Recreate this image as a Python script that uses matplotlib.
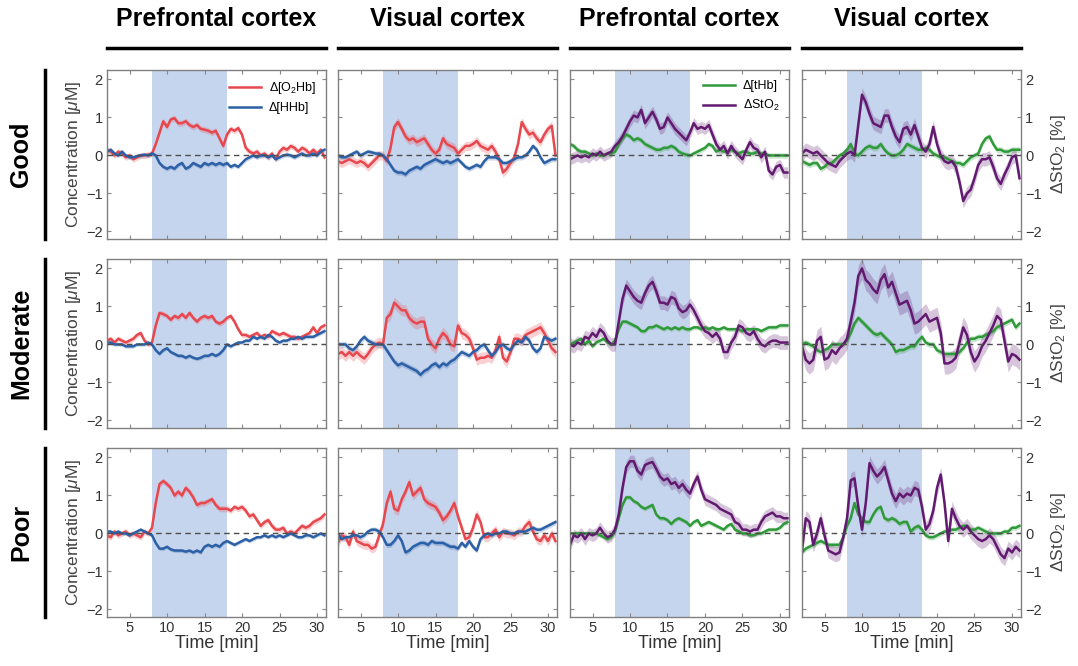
import numpy as np
import matplotlib.pyplot as plt
from matplotlib.lines import Line2D

plt.rcParams['font.family'] = ['Liberation Sans', 'DejaVu Sans']
plt.rcParams['mathtext.fontset'] = 'custom'
plt.rcParams['mathtext.rm'] = 'Liberation Sans'
plt.rcParams['mathtext.it'] = 'Liberation Sans:italic'

# time axis [min], one sample every 30 s
time_min = np.arange(2, 31.01, 0.5)

# ---- Good ----
good_pfc_o2hb = [0.15, 0.10, 0.00, 0.10, 0.05, -0.05, 0.00, -0.10, -0.05, 0.00,
                 0.00, 0.02, 0.05, 0.30, 0.60, 0.90, 0.75, 0.95, 0.98, 0.85,
                 0.85, 0.90, 0.80, 0.75, 0.80, 0.70, 0.68, 0.65, 0.60, 0.65,
                 0.45, 0.25, 0.55, 0.70, 0.65, 0.72, 0.55, 0.20, 0.10, 0.05,
                 0.10, 0.00, 0.05, -0.05, 0.05, -0.10, 0.10, 0.20, 0.15, 0.25,
                 0.20, 0.10, 0.20, 0.15, 0.05, 0.15, 0.05, 0.15, -0.05]
good_pfc_hhb = [0.10, 0.15, 0.05, 0.00, 0.10, 0.00, -0.05, -0.05, -0.02, 0.00,
                0.02, 0.00, 0.05, 0.00, -0.20, -0.30, -0.35, -0.30, -0.35, -0.25,
                -0.20, -0.35, -0.30, -0.20, -0.25, -0.30, -0.20, -0.25, -0.20, -0.25,
                -0.20, -0.25, -0.20, -0.30, -0.25, -0.30, -0.20, -0.10, -0.05, 0.00,
                -0.05, 0.00, 0.00, -0.05, 0.00, -0.10, -0.05, 0.00, 0.02, 0.00,
                -0.05, 0.00, 0.05, 0.00, 0.00, 0.05, 0.00, 0.10, 0.15]
good_vis_o2hb = [-0.15, -0.20, -0.15, -0.10, -0.15, -0.20, -0.15, -0.20, -0.30, -0.20,
                 -0.10, 0.00, 0.00, -0.15, 0.20, 0.75, 0.88, 0.70, 0.50, 0.40,
                 0.45, 0.35, 0.40, 0.45, 0.30, 0.15, 0.05, 0.15, 0.45, 0.30,
                 0.25, 0.20, 0.05, 0.15, 0.25, 0.25, 0.30, 0.38, 0.25, 0.20,
                 0.15, 0.25, 0.10, -0.10, -0.45, -0.35, -0.20, -0.05, 0.30, 0.88,
                 0.70, 0.55, 0.60, 0.45, 0.35, 0.55, 0.70, 0.78, 0.00]
good_vis_hhb = [0.00, -0.05, -0.05, 0.00, 0.05, 0.10, 0.00, 0.05, 0.10, 0.08,
                0.05, 0.05, 0.00, -0.10, -0.25, -0.40, -0.45, -0.45, -0.50, -0.40,
                -0.35, -0.30, -0.35, -0.25, -0.20, -0.15, -0.10, -0.15, -0.20, -0.15,
                -0.20, -0.15, -0.10, -0.20, -0.30, -0.35, -0.30, -0.25, -0.30, -0.15,
                -0.05, -0.05, -0.05, -0.10, -0.20, -0.20, -0.15, -0.10, -0.05, -0.05,
                0.00, 0.10, 0.25, 0.15, -0.05, -0.20, -0.15, -0.10, -0.10]
good_pfc_thb = [0.30, 0.25, 0.15, 0.10, 0.10, 0.05, 0.00, 0.05, 0.00, 0.00,
                0.05, 0.05, 0.10, 0.30, 0.45, 0.55, 0.50, 0.40, 0.45, 0.40,
                0.30, 0.25, 0.20, 0.15, 0.15, 0.20, 0.20, 0.25, 0.20, 0.10,
                0.05, 0.02, 0.00, 0.05, 0.10, 0.15, 0.20, 0.30, 0.25, 0.10,
                0.15, 0.10, 0.10, 0.15, 0.10, 0.05, 0.10, 0.10, 0.05, 0.05,
                0.10, 0.05, 0.05, 0.00, 0.00, 0.00, 0.00, 0.00, 0.00]
good_pfc_sto2 = [-0.10, -0.05, 0.00, -0.05, 0.00, -0.05, 0.05, 0.00, 0.10, 0.00,
                 0.05, 0.10, 0.25, 0.35, 0.50, 0.70, 0.90, 1.05, 1.00, 1.20,
                 0.85, 1.00, 1.15, 0.95, 0.70, 0.75, 1.00, 0.85, 0.70, 0.60,
                 0.50, 0.40, 0.60, 0.85, 0.70, 0.75, 0.70, 0.80, 0.55, 0.30,
                 0.15, 0.25, 0.05, 0.25, 0.10, 0.00, -0.10, 0.15, 0.35, 0.20,
                 0.15, -0.05, 0.10, -0.40, -0.50, -0.30, -0.25, -0.45, -0.45]
good_vis_thb = [-0.15, -0.20, -0.25, -0.20, -0.20, -0.35, -0.30, -0.20, -0.20, -0.10,
                0.00, 0.05, 0.15, 0.30, 0.05, 0.00, 0.10, 0.20, 0.25, 0.20,
                0.20, 0.30, 0.15, 0.05, 0.00, 0.00, 0.05, 0.15, 0.30, 0.25,
                0.20, 0.15, 0.15, 0.20, 0.15, 0.05, 0.00, -0.05, -0.05, -0.10,
                -0.15, -0.20, -0.20, -0.25, -0.15, -0.05, 0.00, 0.05, 0.30, 0.45,
                0.50, 0.30, 0.15, 0.15, 0.10, 0.10, 0.15, 0.15, 0.15]
good_vis_sto2 = [0.05, 0.15, 0.10, 0.05, 0.10, 0.00, -0.10, -0.20, -0.25, -0.30,
                 -0.15, -0.05, 0.05, 0.10, 0.00, 0.80, 1.60, 1.40, 1.10, 0.85,
                 0.80, 0.75, 1.05, 1.05, 0.75, 0.50, 0.35, 0.70, 0.75, 0.55,
                 0.80, 0.50, 0.20, 0.10, 0.30, 0.75, 0.30, 0.00, -0.15, -0.20,
                 -0.15, -0.30, -0.70, -1.20, -1.00, -0.90, -0.60, -0.25, -0.10, -0.10,
                 -0.05, -0.30, -0.60, -0.75, -0.50, -0.30, -0.05, 0.00, -0.60]

# ---- Moderate ----
mod_pfc_o2hb = [0.10, 0.15, 0.05, 0.15, 0.10, 0.05, 0.10, 0.15, 0.25, 0.30,
                0.10, 0.00, 0.05, 0.50, 0.83, 0.80, 0.75, 0.65, 0.75, 0.70,
                0.80, 0.70, 0.83, 0.70, 0.60, 0.70, 0.75, 0.70, 0.75, 0.60,
                0.55, 0.60, 0.70, 0.75, 0.60, 0.40, 0.25, 0.25, 0.20, 0.25,
                0.30, 0.20, 0.25, 0.20, 0.35, 0.30, 0.25, 0.30, 0.25, 0.20,
                0.20, 0.15, 0.20, 0.25, 0.30, 0.45, 0.30, 0.45, 0.50]
mod_pfc_hhb = [0.05, 0.05, 0.00, 0.00, 0.00, -0.05, -0.05, -0.05, 0.00, 0.00,
               0.00, 0.05, 0.00, -0.15, -0.25, -0.15, -0.10, -0.20, -0.25, -0.30,
               -0.30, -0.35, -0.30, -0.35, -0.38, -0.35, -0.30, -0.30, -0.25, -0.30,
               -0.25, -0.15, 0.00, -0.05, 0.00, 0.05, 0.05, 0.10, 0.10, 0.20,
               0.15, 0.20, 0.15, 0.25, 0.20, 0.10, 0.05, 0.10, 0.10, 0.15,
               0.15, 0.20, 0.15, 0.20, 0.20, 0.20, 0.25, 0.30, 0.35]
mod_vis_o2hb = [-0.25, -0.20, -0.30, -0.20, -0.30, -0.20, -0.30, -0.37, -0.25, -0.10,
                0.00, 0.05, 0.00, 0.70, 0.80, 1.10, 1.00, 0.90, 0.90, 0.70,
                0.60, 0.55, 0.60, 0.60, 0.15, 0.00, -0.10, 0.15, 0.30, 0.20,
                0.00, -0.05, 0.50, 0.30, 0.25, 0.15, -0.10, -0.40, -0.35, -0.35,
                -0.30, -0.35, -0.15, 0.20, -0.35, -0.45, -0.20, 0.15, 0.15, 0.10,
                0.25, 0.30, 0.35, 0.40, 0.45, 0.30, 0.10, -0.10, -0.20]
mod_vis_hhb = [0.00, 0.00, 0.00, -0.10, -0.15, -0.05, 0.10, 0.20, 0.10, 0.05,
               0.00, 0.00, 0.00, -0.15, -0.30, -0.45, -0.55, -0.50, -0.55, -0.60,
               -0.65, -0.70, -0.80, -0.70, -0.65, -0.55, -0.50, -0.60, -0.50, -0.55,
               -0.45, -0.40, -0.30, -0.20, -0.25, -0.30, -0.20, -0.15, -0.05, 0.00,
               -0.15, -0.30, -0.20, -0.05, 0.00, -0.10, -0.15, 0.00, 0.10, 0.05,
               0.20, 0.10, -0.10, -0.20, -0.10, 0.20, 0.15, 0.10, 0.15]
mod_pfc_thb = [0.00, 0.05, 0.10, 0.15, 0.00, 0.10, -0.05, 0.05, 0.10, 0.15,
               0.05, 0.00, 0.10, 0.40, 0.60, 0.60, 0.55, 0.50, 0.45, 0.35,
               0.35, 0.45, 0.45, 0.50, 0.45, 0.40, 0.45, 0.40, 0.45, 0.40,
               0.45, 0.40, 0.40, 0.45, 0.45, 0.40, 0.45, 0.40, 0.45, 0.40,
               0.40, 0.45, 0.40, 0.40, 0.40, 0.40, 0.35, 0.40, 0.40, 0.40,
               0.40, 0.35, 0.40, 0.45, 0.45, 0.45, 0.50, 0.50, 0.50]
mod_pfc_sto2 = [0.00, -0.05, 0.05, 0.00, 0.20, 0.15, 0.30, 0.20, 0.40, 0.30,
                0.10, 0.00, 0.00, 0.60, 1.20, 1.55, 1.40, 1.25, 1.15, 1.10,
                1.35, 1.55, 1.65, 1.40, 1.10, 1.10, 1.05, 1.25, 1.20, 0.95,
                0.85, 0.90, 1.05, 0.90, 0.70, 0.50, 0.35, 0.30, 0.20, 0.30,
                0.15, -0.20, -0.20, 0.05, 0.20, 0.50, 0.45, 0.30, 0.25, 0.35,
                0.15, 0.00, -0.05, 0.05, 0.10, 0.10, 0.05, 0.05, 0.05]
mod_vis_thb = [0.00, 0.05, 0.00, -0.05, -0.15, -0.20, -0.15, -0.10, 0.00, 0.00,
               0.00, 0.00, 0.10, 0.30, 0.55, 0.70, 0.60, 0.50, 0.40, 0.30,
               0.25, 0.30, 0.20, 0.10, 0.00, -0.20, -0.15, -0.15, -0.10, -0.05,
               -0.05, 0.10, 0.20, 0.05, 0.00, 0.00, -0.15, -0.20, -0.25, -0.25,
               -0.25, -0.25, -0.20, -0.10, 0.05, 0.15, 0.15, 0.20, 0.20, 0.25,
               0.30, 0.35, 0.45, 0.50, 0.55, 0.60, 0.65, 0.45, 0.55]
mod_vis_sto2 = [-0.05, -0.40, -0.50, -0.40, 0.10, 0.20, -0.40, -0.35, -0.15, -0.25,
                -0.10, 0.00, 0.15, 0.60, 1.10, 1.80, 2.00, 1.70, 1.60, 1.45,
                1.35, 1.70, 1.85, 1.50, 1.65, 1.35, 1.05, 1.10, 1.15, 0.90,
                0.55, 0.60, 0.70, 0.80, 0.60, 0.65, 0.70, 0.30, -0.50, -0.50,
                -0.45, -0.35, 0.05, 0.45, 0.25, -0.20, -0.45, -0.30, -0.05, 0.10,
                0.30, 0.50, 0.75, 0.65, 0.10, -0.45, -0.25, -0.30, -0.40]

# ---- Poor ----
poor_pfc_o2hb = [-0.05, -0.10, 0.05, -0.05, 0.00, 0.05, -0.05, 0.00, -0.05, -0.10,
                 0.05, 0.00, 0.15, 0.80, 1.30, 1.38, 1.30, 1.20, 1.00, 1.10,
                 1.00, 1.20, 1.10, 0.95, 0.75, 0.80, 0.80, 0.85, 0.90, 0.75,
                 0.65, 0.65, 0.65, 0.60, 0.70, 0.65, 0.70, 0.60, 0.45, 0.50,
                 0.35, 0.20, 0.30, 0.35, 0.20, 0.10, 0.10, 0.15, 0.00, 0.05,
                 0.00, 0.10, 0.20, 0.15, 0.20, 0.30, 0.35, 0.40, 0.50]
poor_pfc_hhb = [0.05, 0.05, 0.00, 0.05, 0.00, 0.00, -0.05, 0.00, 0.05, 0.10,
                0.05, 0.00, -0.05, -0.25, -0.40, -0.40, -0.35, -0.42, -0.45, -0.45,
                -0.45, -0.48, -0.45, -0.50, -0.45, -0.50, -0.35, -0.30, -0.35, -0.30,
                -0.35, -0.25, -0.20, -0.25, -0.30, -0.25, -0.20, -0.15, -0.20, -0.15,
                -0.10, -0.10, -0.05, -0.10, -0.05, -0.10, -0.05, -0.10, -0.05, 0.00,
                -0.05, -0.10, -0.10, -0.05, -0.05, -0.10, -0.05, 0.00, -0.05]
poor_vis_o2hb = [-0.25, -0.05, -0.10, -0.30, 0.05, -0.20, -0.25, -0.30, -0.30, -0.40,
                 -0.35, -0.05, 0.25, 0.80, 1.10, 0.65, 0.60, 0.90, 1.10, 1.35,
                 1.00, 1.10, 1.20, 0.90, 0.80, 0.75, 0.70, 0.55, 0.35, 0.45,
                 0.60, 0.80, 0.45, 0.15, -0.15, -0.10, 0.15, 0.50, 0.30, -0.10,
                 -0.10, 0.00, 0.10, -0.10, 0.05, 0.00, 0.00, -0.05, 0.05, 0.05,
                 0.20, 0.30, 0.05, -0.15, -0.20, -0.05, -0.20, 0.00, -0.20]
poor_vis_hhb = [0.00, -0.15, -0.10, -0.10, -0.05, -0.05, -0.10, -0.05, 0.05, 0.10,
                0.10, 0.05, -0.10, -0.30, -0.30, -0.20, -0.05, -0.20, -0.50, -0.45,
                -0.35, -0.30, -0.25, -0.25, -0.30, -0.20, -0.25, -0.25, -0.25, -0.30,
                -0.35, -0.35, -0.40, -0.25, -0.35, -0.20, -0.35, -0.45, -0.15, -0.05,
                0.00, -0.05, 0.00, 0.00, 0.05, 0.05, 0.00, 0.00, 0.05, 0.05,
                0.05, 0.10, 0.15, 0.10, 0.10, 0.15, 0.20, 0.25, 0.30]
poor_pfc_thb = [0.00, 0.00, 0.00, 0.00, 0.00, 0.00, 0.00, 0.00, -0.05, -0.10,
                -0.15, -0.10, 0.05, 0.40, 0.75, 0.95, 0.95, 0.85, 0.80, 0.70,
                0.65, 0.70, 0.75, 0.50, 0.40, 0.40, 0.35, 0.25, 0.35, 0.40,
                0.35, 0.30, 0.20, 0.30, 0.35, 0.20, 0.25, 0.30, 0.25, 0.20,
                0.15, 0.10, 0.20, 0.25, 0.10, 0.05, 0.00, 0.00, -0.05, -0.05,
                0.00, 0.00, 0.05, 0.10, 0.10, 0.10, 0.15, 0.25, 0.30]
poor_pfc_sto2 = [-0.30, -0.05, -0.10, 0.00, -0.15, 0.00, -0.05, 0.00, 0.15, 0.00,
                 -0.10, -0.05, 0.10, 0.50, 1.20, 1.75, 1.90, 1.90, 1.65, 1.55,
                 1.80, 1.85, 1.88, 1.70, 1.50, 1.40, 1.45, 1.30, 1.35, 1.20,
                 1.30, 1.15, 1.05, 1.30, 1.50, 1.15, 0.90, 0.85, 0.80, 0.75,
                 0.65, 0.60, 0.55, 0.50, 0.30, 0.25, 0.10, 0.10, 0.05, 0.10,
                 0.10, 0.30, 0.45, 0.50, 0.55, 0.45, 0.45, 0.40, 0.40]
poor_vis_thb = [-0.50, -0.40, -0.35, -0.30, -0.25, -0.20, -0.25, -0.30, -0.30, -0.30,
                -0.30, -0.10, 0.20, 0.40, 0.80, 0.50, 0.40, 0.30, 0.30, 0.50,
                0.65, 0.70, 0.40, 0.35, 0.40, 0.35, 0.25, 0.30, 0.30, 0.05,
                0.15, 0.20, 0.10, -0.05, -0.10, -0.10, -0.05, 0.00, 0.05, 0.05,
                0.10, 0.10, 0.15, 0.20, 0.20, 0.10, 0.10, 0.15, 0.10, 0.05,
                0.00, 0.00, 0.00, 0.00, 0.05, 0.05, 0.15, 0.15, 0.20]
poor_vis_sto2 = [-0.45, 0.40, 0.30, -0.30, 0.00, 0.40, -0.05, -0.45, -0.50, -0.55,
                 -0.50, -0.10, 0.40, 1.40, 1.45, 0.70, 0.10, 0.80, 1.85, 1.65,
                 1.50, 1.60, 1.75, 1.40, 1.05, 0.85, 1.05, 0.95, 1.05, 1.00,
                 1.20, 1.15, 0.70, 0.10, 0.25, 0.60, 1.20, 1.55, 0.80, -0.20,
                 0.65, 0.40, 0.20, 0.10, 0.20, 0.05, -0.05, -0.15, -0.20, -0.15,
                 -0.05, -0.15, -0.35, -0.55, -0.65, -0.40, -0.50, -0.35, -0.45]

# half-width of the shaded error band, per panel (first, second series)
band_good = [(0.08, 0.06), (0.12, 0.07), (0.07, 0.15), (0.08, 0.18)]
band_mod = [(0.07, 0.05), (0.15, 0.08), (0.06, 0.18), (0.08, 0.28)]
band_poor = [(0.08, 0.05), (0.12, 0.07), (0.06, 0.16), (0.07, 0.2)]

row_names = ['Good', 'Moderate', 'Poor']
col_names = ['Prefrontal cortex', 'Visual cortex', 'Prefrontal cortex', 'Visual cortex']

C_RED, C_BLUE = '#e8474e', '#2c60a6'
C_GREEN, C_PURPLE = '#2f9a3a', '#621a70'
C_TASK = '#c6d5ee'

rows = [
    [(good_pfc_o2hb, good_pfc_hhb), (good_vis_o2hb, good_vis_hhb),
     (good_pfc_thb, good_pfc_sto2), (good_vis_thb, good_vis_sto2)],
    [(mod_pfc_o2hb, mod_pfc_hhb), (mod_vis_o2hb, mod_vis_hhb),
     (mod_pfc_thb, mod_pfc_sto2), (mod_vis_thb, mod_vis_sto2)],
    [(poor_pfc_o2hb, poor_pfc_hhb), (poor_vis_o2hb, poor_vis_hhb),
     (poor_pfc_thb, poor_pfc_sto2), (poor_vis_thb, poor_vis_sto2)],
]
bands = [band_good, band_mod, band_poor]

W, H = 1078, 666
fig = plt.figure(figsize=(W / 100, H / 100), dpi=100)

col_left = [107, 338, 570, 802]
row_top = [70, 259, 448]
ax_w, ax_h = 219, 169

for r in range(3):
    for c in range(4):
        ax = fig.add_axes([col_left[c] / W, 1 - (row_top[r] + ax_h) / H, ax_w / W, ax_h / H])
        ax.axvspan(8, 18, color=C_TASK, lw=0, zorder=0)
        s1, s2 = rows[r][c]
        e1, e2 = bands[r][c]
        if c < 2:
            cols = (C_RED, C_BLUE)
            labs = ('Δ[O$_2$Hb]', 'Δ[HHb]')
        else:
            cols = (C_GREEN, C_PURPLE)
            labs = ('Δ[tHb]', 'ΔStO$_2$')
        for y, e, col, lab in [(s1, e1, cols[0], labs[0]), (s2, e2, cols[1], labs[1])]:
            y = np.array(y)
            ax.fill_between(time_min, y - e, y + e, color=col, alpha=0.25, lw=0, zorder=1)
            ax.plot(time_min, y, color=col, lw=1.8, label=lab, zorder=2)
        ax.axhline(0, color='#4d4d4d', lw=1, ls=(0, (4, 3)), zorder=3)

        ax.set_xlim(2, 31.2)
        ax.set_ylim(-2.2, 2.25)
        ax.set_xticks([5, 10, 15, 20, 25, 30])
        ax.set_yticks([-2, -1, 0, 1, 2])
        ax.tick_params(direction='in', top=True, right=True, length=3, width=0.8,
                       color='#888888', labelsize=10.5, labelcolor='#333333', pad=3)
        for sp in ax.spines.values():
            sp.set_color('#808080')
            sp.set_linewidth(1)

        if r < 2:
            ax.tick_params(labelbottom=False)
        else:
            ax.set_xlabel('Time [min]', fontsize=13, color='#333333', labelpad=0)
        if c == 0:
            ax.set_ylabel('Concentration [$\\mu$M]', fontsize=12.5, color='#444444', labelpad=2)
        elif c == 3:
            ax.tick_params(labelleft=False, labelright=True)
            ax.yaxis.set_label_position('right')
            ax.set_ylabel('ΔStO$_2$ [%]', fontsize=12.5, color='#444444', labelpad=5)
        else:
            ax.tick_params(labelleft=False)

        if r == 0 and c in (0, 2):
            ax.legend(loc='upper right', frameon=False, fontsize=9, handlelength=2.6,
                      borderaxespad=0.4, labelspacing=0.5, handletextpad=0.6)

# column headers with underline bars
for c, name in enumerate(col_names):
    x0 = col_left[c] / W
    x1 = (col_left[c] + ax_w) / W
    fig.text((x0 + x1) / 2, 1 - 19 / H, name, ha='center', va='center',
             fontsize=18, fontweight='bold')
    fig.add_artist(Line2D([x0, x1], [1 - 48 / H] * 2, color='black', lw=2.5))

# row labels with vertical bars
for r, name in enumerate(row_names):
    y0 = 1 - (row_top[r] + ax_h) / H
    y1 = 1 - row_top[r] / H
    fig.text(21 / W, (y0 + y1) / 2, name, rotation=90, ha='center', va='center',
             fontsize=18, fontweight='bold')
    fig.add_artist(Line2D([45 / W] * 2, [y0, y1], color='black', lw=2.5))

fig.savefig('out.png', dpi=100)
